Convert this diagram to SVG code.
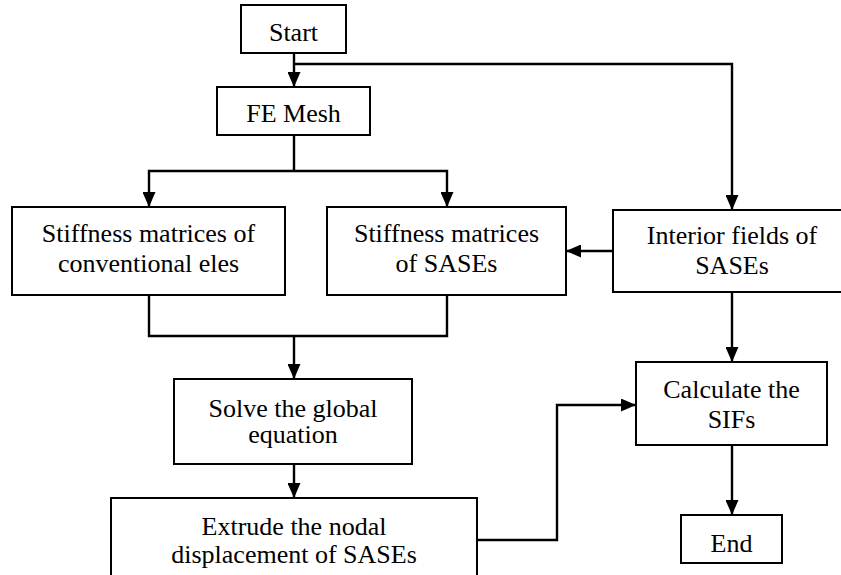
<svg xmlns="http://www.w3.org/2000/svg" width="841" height="575" viewBox="0 0 841 575">
<style>
.box{fill:#fff;stroke:#000;stroke-width:2}
.c{fill:none;stroke:#000;stroke-width:2.4}
</style>
<defs>
<marker id="ah" markerUnits="userSpaceOnUse" markerWidth="15" markerHeight="13" refX="15" refY="6.5" orient="auto" viewBox="0 0 15 13">
<path d="M0,0 L15,6.5 L0,13 z" fill="#000"/>
</marker>
</defs>
<rect width="841" height="575" fill="#fff"/>
<g id="connectors">
<path class="c" d="M294,53 V87" marker-end="url(#ah)"/>
<path class="c" d="M294,64 H732 V210" marker-end="url(#ah)"/>
<path class="c" d="M294,135 V171"/>
<path class="c" d="M294,171 H149 V207" marker-end="url(#ah)"/>
<path class="c" d="M294,171 H447 V207" marker-end="url(#ah)"/>
<path class="c" d="M149,295 V336 H447 V295"/>
<path class="c" d="M294,336 V379" marker-end="url(#ah)"/>
<path class="c" d="M613,251 H566" marker-end="url(#ah)"/>
<path class="c" d="M732,292 V362" marker-end="url(#ah)"/>
<path class="c" d="M294,464 V498" marker-end="url(#ah)"/>
<path class="c" d="M477,540 H557 V405 H636" marker-end="url(#ah)"/>
<path class="c" d="M732,445 V515" marker-end="url(#ah)"/>
</g>
<g font-family="Liberation Serif, Times New Roman, serif" font-size="26" text-anchor="middle" fill="#000">
<g id="start"><rect class="box" x="241" y="5" width="105" height="48"/><text x="293.5" y="40.5">Start</text></g>
<g id="fe-mesh"><rect class="box" x="217" y="87" width="153" height="48"/><text x="293.5" y="121.5">FE Mesh</text></g>
<g id="stiff-conv"><rect class="box" x="12" y="207" width="273" height="88"/><text x="148.5" y="241.5">Stiffness matrices of</text><text x="148.5" y="271.5">conventional eles</text></g>
<g id="stiff-sases"><rect class="box" x="327" y="207" width="239" height="88"/><text x="446.5" y="241.5">Stiffness matrices</text><text x="446.5" y="271.5">of SASEs</text></g>
<g id="interior"><rect class="box" x="613" y="210" width="240" height="82"/><text x="732" y="243.5">Interior fields of</text><text x="732" y="273.5">SASEs</text></g>
<g id="solve"><rect class="box" x="174" y="379" width="238" height="85"/><text x="293" y="416.5">Solve the global</text><text x="293" y="443">equation</text></g>
<g id="extrude"><rect class="box" x="111" y="498" width="366" height="95"/><text x="294" y="534.5">Extrude the nodal</text><text x="294" y="563">displacement of SASEs</text></g>
<g id="calculate"><rect class="box" x="636" y="362" width="191" height="83"/><text x="731.5" y="397.5">Calculate the</text><text x="731.5" y="428">SIFs</text></g>
<g id="end"><rect class="box" x="681" y="515" width="101" height="48"/><text x="731.5" y="551.5">End</text></g>
</g>
</svg>
